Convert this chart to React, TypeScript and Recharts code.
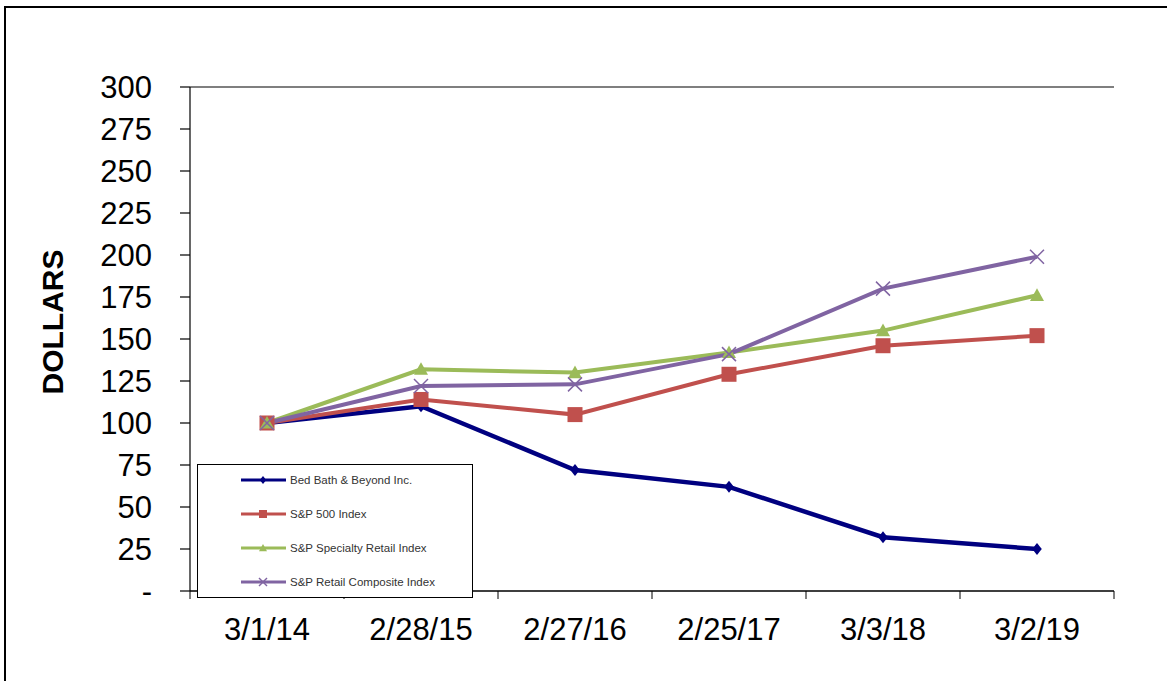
import React from "react"
import { LineChart, Line, XAxis, YAxis, CartesianGrid, Legend } from "recharts"

const dates = ["3/1/14", "2/28/15", "2/27/16", "2/25/17", "3/3/18", "3/2/19"]
const bedBath = [100, 110, 72, 62, 32, 25]
const sp500 = [100, 114, 105, 129, 146, 152]
const specialtyRetail = [100, 132, 130, 142, 155, 176]
const retailComposite = [100, 122, 123, 141, 180, 199]
const yTicks = [0, 25, 50, 75, 100, 125, 150, 175, 200, 225, 250, 275, 300]

const data = dates.map((date, i) => ({
  date,
  bbby: bedBath[i],
  sp500: sp500[i],
  specialty: specialtyRetail[i],
  composite: retailComposite[i],
}))

const FONT = "'Liberation Sans', Arial, sans-serif"
const HALF_BAND = 77

type Marker = "diamond" | "square" | "triangle" | "cross"

const series: { key: string; name: string; color: string; marker: Marker; width: number }[] = [
  { key: "bbby", name: "Bed Bath & Beyond Inc.", color: "#000080", marker: "diamond", width: 4.5 },
  { key: "sp500", name: "S&P 500 Index", color: "#c0504d", marker: "square", width: 4 },
  { key: "specialty", name: "S&P Specialty Retail Index", color: "#9bbb59", marker: "triangle", width: 4 },
  { key: "composite", name: "S&P Retail Composite Index", color: "#8064a2", marker: "cross", width: 4 },
]

function MarkerShape({ type, cx, cy, color, s }: { type: Marker; cx: number; cy: number; color: string; s: number }) {
  if (cx == null || cy == null) return null
  if (type === "diamond") {
    return <path d={`M${cx},${cy - s} L${cx + s * 0.8},${cy} L${cx},${cy + s} L${cx - s * 0.8},${cy} Z`} fill={color} />
  }
  if (type === "square") {
    return <rect x={cx - s} y={cy - s} width={s * 2} height={s * 2} fill={color} />
  }
  if (type === "triangle") {
    return <path d={`M${cx},${cy - s} L${cx + s},${cy + s * 0.8} L${cx - s},${cy + s * 0.8} Z`} fill={color} />
  }
  return (
    <g stroke={color} strokeWidth={1.5}>
      <line x1={cx - s} y1={cy - s} x2={cx + s} y2={cy + s} />
      <line x1={cx - s} y1={cy + s} x2={cx + s} y2={cy - s} />
    </g>
  )
}

const markerSize: Record<Marker, number> = { diamond: 6, square: 7.5, triangle: 7, cross: 7 }

function XTick(props: any) {
  const { x, y, payload, index } = props
  return (
    <g>
      <line x1={x - HALF_BAND} x2={x - HALF_BAND} y1={y} y2={y + 8} stroke="#000" />
      {index === dates.length - 1 && <line x1={x + HALF_BAND} x2={x + HALF_BAND} y1={y} y2={y + 8} stroke="#000" />}
      <text x={x} y={y + 49} textAnchor="middle" fontSize={31} fill="#000" fontFamily={FONT}>
        {payload.value}
      </text>
    </g>
  )
}

function LegendBox() {
  return (
    <div
      style={{
        width: 276,
        height: 134,
        boxSizing: "border-box",
        border: "1.5px solid #000",
        background: "#fff",
      }}
    >
      <svg width={273} height={131}>
        {series.map((s, i) => {
          const cy = 15 + 34 * i
          return (
            <g key={s.key}>
              <line x1={43} x2={88} y1={cy} y2={cy} stroke={s.color} strokeWidth={3} />
              <MarkerShape type={s.marker} cx={65} cy={cy} color={s.color} s={4} />
              <text x={92} y={cy + 4} fontSize={11.5} fill="#333" fontFamily={FONT}>
                {s.name}
              </text>
            </g>
          )
        })}
      </svg>
    </div>
  )
}

export default function App() {
  return (
    <div style={{ position: "fixed", left: 0, top: 0, width: 1167, height: 681, background: "#fff", fontFamily: FONT }}>
      <div
        style={{
          position: "absolute",
          left: 4,
          top: 6,
          width: 1200,
          height: 700,
          borderLeft: "2px solid #000",
          borderTop: "2px solid #000",
          pointerEvents: "none",
        }}
      />
      <LineChart width={1167} height={681} data={data} margin={{ top: 87, right: 53, bottom: 30, left: 90 }}>
        <CartesianGrid horizontal vertical={false} stroke="#000" strokeWidth={1.2} />
        <XAxis
          dataKey="date"
          height={60}
          padding={{ left: HALF_BAND, right: HALF_BAND }}
          axisLine={{ stroke: "#000", strokeWidth: 1.2 }}
          tickLine={false}
          tickSize={0}
          tickMargin={0}
          tick={<XTick />}
          interval={0}
        />
        <YAxis
          yAxisId="left"
          width={100}
          domain={[0, 300]}
          ticks={yTicks}
          interval={0}
          tickSize={10}
          tickMargin={28}
          axisLine={{ stroke: "#000", strokeWidth: 1.2 }}
          tickLine={{ stroke: "#000", strokeWidth: 1.2 }}
          tick={{ fontSize: 31, fill: "#000", fontFamily: FONT }}
          tickFormatter={(v: number) => (v === 0 ? "-" : String(v))}
          label={{
            content: () => (
              <text
                transform="translate(63,322) rotate(-90)"
                textAnchor="middle"
                fontSize={30}
                fontWeight="bold"
                fill="#000"
                fontFamily={FONT}
              >
                DOLLARS
              </text>
            ),
          }}
        />
        <YAxis
          yAxisId="right"
          orientation="right"
          width={0}
          domain={[0, 300]}
          tick={false}
          tickLine={false}
          axisLine={{ stroke: "#909090", strokeWidth: 1.5 }}
        />
        {series.map((s) => (
          <Line
            key={s.key}
            yAxisId="left"
            type="linear"
            dataKey={s.key}
            name={s.name}
            stroke={s.color}
            strokeWidth={s.width}
            isAnimationActive={false}
            dot={(p: any) => (
              <MarkerShape
                key={`${s.key}-${p.index}`}
                type={s.marker}
                cx={p.cx}
                cy={p.cy}
                color={s.color}
                s={markerSize[s.marker]}
              />
            )}
            activeDot={false}
          />
        ))}
        <Legend
          layout="vertical"
          align="center"
          verticalAlign="middle"
          content={() => <LegendBox />}
          wrapperStyle={{ left: 197, top: 464, width: 276, height: 134 }}
        />
      </LineChart>
    </div>
  )
}
